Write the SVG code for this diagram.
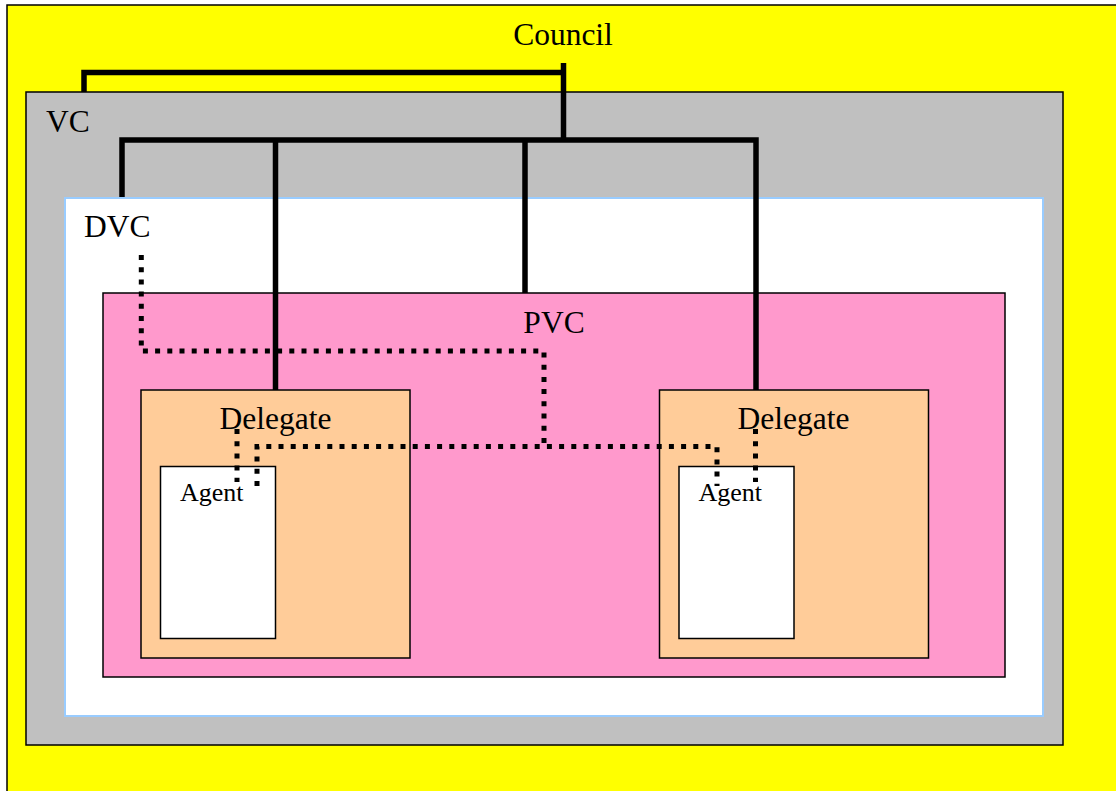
<svg xmlns="http://www.w3.org/2000/svg" width="1116" height="791" viewBox="0 0 1116 791">
  <style>
    .box { stroke: #000; stroke-width: 1.5; }
    .lbl { font-family: "Liberation Serif", "Times New Roman", serif; font-size: 31.5px; fill: #000; }
    .small { font-family: "Liberation Serif", "Times New Roman", serif; font-size: 26px; fill: #000; }
    .solid { fill: none; stroke: #000; stroke-width: 5.5; stroke-linejoin: miter; }
    .dotted { fill: none; stroke: #000; stroke-width: 5; stroke-dasharray: 5 7.2; }
  </style>
  <rect width="1116" height="791" fill="#ffffff"/>

  <g id="council">
    <rect class="box" x="7" y="5" width="1120" height="800" fill="#ffff00"/>
    <text class="lbl" x="563" y="45" text-anchor="middle">Council</text>
  </g>

  <g id="vc">
    <rect class="box" x="26" y="92" width="1037" height="653" fill="#c0c0c0"/>
    <text class="lbl" x="46" y="132">VC</text>
  </g>

  <g id="dvc">
    <rect x="65" y="198" width="978" height="518" fill="#ffffff" stroke="#99ccff" stroke-width="2"/>
    <text class="lbl" x="84" y="237">DVC</text>
  </g>

  <g id="pvc">
    <rect class="box" x="103" y="293" width="902" height="384" fill="#ff99cc"/>
    <text class="lbl" x="554" y="333" text-anchor="middle">PVC</text>
  </g>

  <g id="delegate-left">
    <rect class="box" x="141" y="390" width="269" height="268" fill="#ffcc99"/>
    <text class="lbl" x="275.5" y="429" text-anchor="middle">Delegate</text>
  </g>

  <g id="agent-left">
    <rect class="box" x="160.5" y="466.5" width="115" height="172" fill="#ffffff"/>
    <text class="small" x="180" y="501">Agent</text>
  </g>

  <g id="delegate-right">
    <rect class="box" x="659.5" y="390" width="269" height="268" fill="#ffcc99"/>
    <text class="lbl" x="793.5" y="429" text-anchor="middle">Delegate</text>
  </g>

  <g id="agent-right">
    <rect class="box" x="679" y="466.5" width="115" height="172" fill="#ffffff"/>
    <text class="small" x="698.5" y="501">Agent</text>
  </g>

  <g id="connectors">
    <!-- reporting lines -->
    <path class="solid" d="M563.5,63 V140"/>
    <path class="solid" d="M84,92 V72.5 H563.5"/>
    <path class="solid" d="M122,197 V140 H756 V390"/>
    <path class="solid" d="M275.5,140 V390"/>
    <path class="solid" d="M525,140 V293"/>
    <!-- coordination links -->
    <path class="dotted" d="M141.3,255 V351 H544 V446.5"/>
    <path class="dotted" d="M257,486 V446.5 H717 V486"/>
    <path class="dotted" d="M237,429 V482"/>
    <path class="dotted" d="M755.5,429 V482"/>
  </g>
</svg>
